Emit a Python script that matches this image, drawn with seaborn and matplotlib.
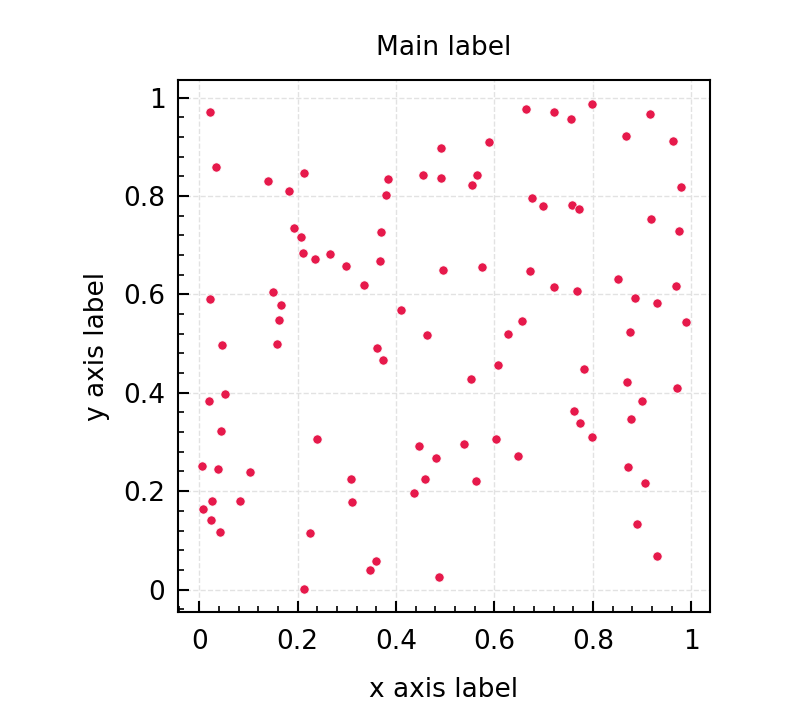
import matplotlib
matplotlib.use("Agg")
import matplotlib.pyplot as plt
import matplotlib.ticker as mticker
import seaborn as sns
import pandas as pd

# values
x_vals = [0.023, 0.035, 0.139, 0.183, 0.214, 0.383, 0.380, 0.455, 0.491, 0.491,
          0.193, 0.206, 0.210, 0.236, 0.265, 0.369, 0.367, 0.299, 0.334, 0.496,
          0.022, 0.150, 0.167, 0.162, 0.410, 0.462, 0.047, 0.158, 0.361,
          0.373, 0.020, 0.053, 0.045, 0.240, 0.006, 0.039, 0.104, 0.309, 0.446,
          0.481, 0.458, 0.437, 0.026, 0.083, 0.311, 0.008, 0.024, 0.043, 0.226,
          0.359, 0.348, 0.487, 0.214,
          0.664, 0.721, 0.755, 0.798, 0.916, 0.589, 0.867, 0.962, 0.564, 0.555,
          0.980, 0.677, 0.698, 0.758, 0.772, 0.919, 0.975, 0.575, 0.673, 0.722,
          0.768, 0.851, 0.968, 0.885, 0.931, 0.655, 0.627, 0.876, 0.990,
          0.553, 0.608, 0.782, 0.870, 0.971, 0.900, 0.762, 0.773, 0.877, 0.799,
          0.603, 0.538, 0.647, 0.562, 0.871, 0.906, 0.889, 0.931]
y_vals = [0.970, 0.860, 0.831, 0.810, 0.847, 0.835, 0.802, 0.842, 0.898, 0.837,
          0.736, 0.716, 0.685, 0.673, 0.682, 0.726, 0.667, 0.657, 0.619, 0.650,
          0.590, 0.604, 0.579, 0.548, 0.568, 0.518, 0.497, 0.500, 0.491,
          0.467, 0.384, 0.398, 0.322, 0.306, 0.251, 0.246, 0.238, 0.224, 0.292,
          0.267, 0.225, 0.196, 0.181, 0.181, 0.178, 0.163, 0.141, 0.117, 0.115,
          0.057, 0.040, 0.025, 0.002,
          0.978, 0.972, 0.957, 0.987, 0.966, 0.911, 0.922, 0.912, 0.842, 0.822,
          0.819, 0.796, 0.780, 0.782, 0.774, 0.753, 0.728, 0.656, 0.648, 0.615,
          0.608, 0.631, 0.617, 0.593, 0.582, 0.547, 0.520, 0.524, 0.544,
          0.429, 0.457, 0.448, 0.421, 0.410, 0.384, 0.362, 0.338, 0.347, 0.311,
          0.307, 0.295, 0.271, 0.221, 0.250, 0.217, 0.133, 0.068]

df = pd.DataFrame({"x": x_vals, "y": y_vals})

sns.set_theme(style="white", rc={"text.color": "black", "axes.labelcolor": "black",
                                 "xtick.color": "black", "ytick.color": "black"})
plt.rcParams["font.family"] = ["DejaVu Sans"]

fig = plt.figure(figsize=(8, 7.02), dpi=100)
ax = fig.add_axes([0.2225, 0.128, 0.665, 0.758])

ax.grid(True, color="#e2e2e2", linestyle="--", linewidth=1.0)
ax.set_axisbelow(True)
sns.scatterplot(data=df, x="x", y="y", color="#e6194b", s=44,
                edgecolor="white", linewidth=0.5, ax=ax, zorder=3)

ax.set_xlim(-0.043, 1.038)
ax.set_ylim(-0.046, 1.036)

ax.xaxis.set_major_locator(mticker.MultipleLocator(0.2))
ax.yaxis.set_major_locator(mticker.MultipleLocator(0.2))
ax.xaxis.set_minor_locator(mticker.MultipleLocator(0.04))
ax.yaxis.set_minor_locator(mticker.MultipleLocator(0.04))
ax.xaxis.set_major_formatter(mticker.FormatStrFormatter("%g"))
ax.yaxis.set_major_formatter(mticker.FormatStrFormatter("%g"))

ax.tick_params(which="both", bottom=True, left=True, top=False, right=False)
ax.tick_params(which="major", direction="in", length=8, width=1.5,
               labelsize=19, color="black", labelcolor="black")
ax.tick_params(which="minor", direction="in", length=4.5, width=1.2, color="black")
ax.tick_params(axis="x", which="major", pad=12)
ax.tick_params(axis="y", which="major", pad=9)

for sp in ax.spines.values():
    sp.set_color("black")
    sp.set_linewidth(1.5)

ax.set_title("Main label", fontsize=19, pad=18, color="black")
ax.set_xlabel("x axis label", fontsize=19, labelpad=16)
ax.set_ylabel("y axis label", fontsize=19, labelpad=10)

fig.savefig("out.png", dpi=100)
